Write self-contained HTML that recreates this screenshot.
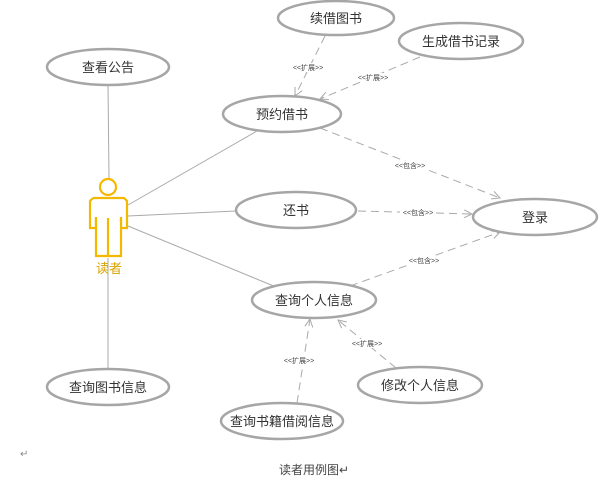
<!DOCTYPE html><html><head><meta charset="utf-8"><style>body{margin:0;background:#fff}svg{display:block}text{font-family:"Liberation Sans","Noto Sans CJK SC",sans-serif}</style></head><body>
<svg width="614" height="482" viewBox="0 0 614 482">
<defs><marker id="a" markerWidth="10" markerHeight="10" refX="9" refY="5" orient="auto" markerUnits="userSpaceOnUse"><path d="M1,1 L9,5 L1,9" fill="none" stroke="#aaa" stroke-width="1"/></marker></defs>
<g stroke="#aaa" stroke-width="1" fill="none">
<line x1="108" y1="85" x2="109" y2="178"/>
<line x1="128" y1="205" x2="257" y2="131"/>
<line x1="128" y1="216" x2="236" y2="211"/>
<line x1="128" y1="226" x2="276" y2="287"/>
<line x1="108" y1="258" x2="108" y2="369"/>
</g>
<g stroke="#aaa" stroke-width="1" fill="none" stroke-dasharray="8,5" marker-end="url(#a)">
<line x1="325" y1="36" x2="295" y2="96"/>
<line x1="420" y1="57" x2="320" y2="99"/>
<line x1="320" y1="128" x2="500" y2="198"/>
<line x1="358" y1="211" x2="472" y2="214"/>
<line x1="350" y1="286" x2="500" y2="232"/>
<line x1="297" y1="403" x2="310" y2="319"/>
<line x1="396" y1="368" x2="338" y2="320"/>
</g>
<g fill="#fff" stroke="#a6a6a6" stroke-width="2.5">
<ellipse cx="108" cy="67" rx="61" ry="18"/>
<ellipse cx="336" cy="18" rx="58" ry="17"/>
<ellipse cx="461" cy="41" rx="62" ry="18"/>
<ellipse cx="282" cy="114" rx="59" ry="18"/>
<ellipse cx="296" cy="210" rx="60" ry="18"/>
<ellipse cx="535" cy="217" rx="62" ry="18"/>
<ellipse cx="314" cy="300" rx="62" ry="18"/>
<ellipse cx="420" cy="385" rx="62" ry="18"/>
<ellipse cx="108" cy="387" rx="61" ry="18"/>
<ellipse cx="282" cy="421" rx="61" ry="18"/>
</g>
<g font-size="13" fill="#333" text-anchor="middle">
<text x="108" y="72">查看公告</text>
<text x="336" y="23">续借图书</text>
<text x="461" y="46">生成借书记录</text>
<text x="282" y="119">预约借书</text>
<text x="296" y="215">还书</text>
<text x="535" y="222">登录</text>
<text x="314" y="305">查询个人信息</text>
<text x="420" y="390">修改个人信息</text>
<text x="108" y="392">查询图书信息</text>
<text x="282" y="426">查询书籍借阅信息</text>
</g>
<g font-size="7" fill="#444" text-anchor="middle">
<rect x="290" y="63" width="36" height="9" fill="#fff"/><text x="308" y="70">&lt;&lt;扩展&gt;&gt;</text>
<rect x="355" y="73" width="36" height="9" fill="#fff"/><text x="373" y="80">&lt;&lt;扩展&gt;&gt;</text>
<rect x="392" y="161" width="36" height="9" fill="#fff"/><text x="410" y="168">&lt;&lt;包含&gt;&gt;</text>
<rect x="400" y="208" width="36" height="9" fill="#fff"/><text x="418" y="215">&lt;&lt;包含&gt;&gt;</text>
<rect x="406" y="256" width="36" height="9" fill="#fff"/><text x="424" y="263">&lt;&lt;包含&gt;&gt;</text>
<rect x="281" y="356" width="36" height="9" fill="#fff"/><text x="299" y="363">&lt;&lt;扩展&gt;&gt;</text>
<rect x="349" y="339" width="36" height="9" fill="#fff"/><text x="367" y="346">&lt;&lt;扩展&gt;&gt;</text>
</g>
<g stroke="#f5b800" stroke-width="2.2" fill="#fff">
<circle cx="108" cy="187" r="8"/>
<path d="M93,198 H124 L127,201 V228 H121 V218 M93,198 L90,201 V228 H96 V218"/>
<path d="M96,217 V256 H108 V218 M121,217 V256 H109"/>
</g>
<text x="109" y="273" font-size="13" fill="#d9a400" text-anchor="middle">读者</text>
<text x="20" y="457" font-size="10" fill="#888">↵</text>
<text x="314" y="474" font-size="12" fill="#444" text-anchor="middle">读者用例图↵</text>
</svg></body></html>
